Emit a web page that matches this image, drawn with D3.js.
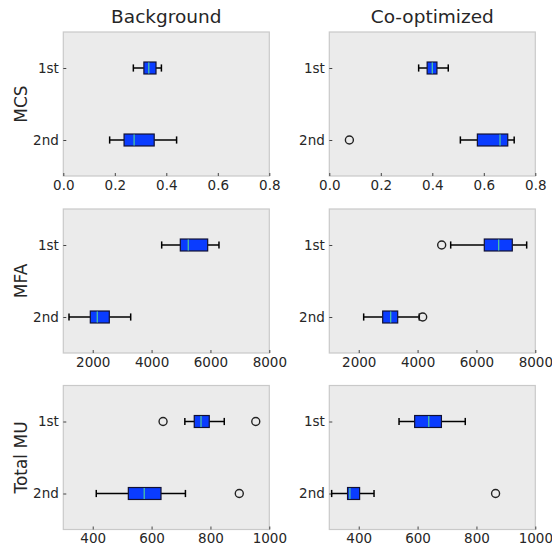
<!DOCTYPE html>
<html>
<head>
<meta charset="utf-8">
<script src="https://cdn.jsdelivr.net/npm/d3@7"></script>
<style>
  body { margin: 0; background: white; }
  text { font-family: "DejaVu Sans", sans-serif; fill: #262626; }
</style>
</head>
<body>
<div id="container"></div>
<script>
let w = 552;
let h = 549;

// DATA
let methods = ["Background", "Co-optimized"];
let metrics = ["MCS", "MFA", "Total MU"];
let sessions = ["1st", "2nd"];

// [whisker low, q1, median, q3, whisker high] for 1st, 2nd
let mcsBackground = [[0.272, 0.313, 0.332, 0.360, 0.381], [0.180, 0.236, 0.275, 0.353, 0.440]];
let mcsCoopt      = [[0.347, 0.380, 0.400, 0.418, 0.462], [0.509, 0.575, 0.663, 0.693, 0.718]];
let mfaBackground = [[4343, 4976, 5247, 5906, 6290], [1194, 1918, 2155, 2563, 3290]];
let mfaCoopt      = [[5125, 6267, 6755, 7218, 7707], [2168, 2814, 3086, 3324, 4058]];
let muBackground  = [[713, 745, 768, 796, 847], [412, 521, 575, 632, 715]];
let muCoopt       = [[537, 590, 638, 681, 762], [308, 362, 370, 403, 452]];

// outliers for 1st, 2nd
let mcsBackgroundOut = [[], []];
let mcsCooptOut      = [[], [0.078]];
let mfaBackgroundOut = [[], []];
let mfaCooptOut      = [[4819], [4173]];
let muBackgroundOut  = [[639, 954], [898]];
let muCooptOut       = [[], [865]];

let xDomains = [[0, 0.8], [1000, 8000], [300, 1000]];
let xTicks = [[0, 0.2, 0.4, 0.6, 0.8], [2000, 4000, 6000, 8000], [400, 600, 800, 1000]];
let xFormats = [".1f", "d", "d"];

let stats = [[mcsBackground, mcsCoopt], [mfaBackground, mfaCoopt], [muBackground, muCoopt]];
let outliers = [[mcsBackgroundOut, mcsCooptOut], [mfaBackgroundOut, mfaCooptOut], [muBackgroundOut, muCooptOut]];

// LAYOUT
let colX = [63.3, 329.3];
let rowY = [32, 209, 385.5];
let pw = 206;
let ph = 144;

let viz = d3.select("#container").append("svg")
    .attr("width", w)
    .attr("height", h)
;

metrics.forEach((metric, r) => {
  methods.forEach((method, c) => {
    let g = viz.append("g").attr("transform", "translate(" + colX[c] + "," + rowY[r] + ")");

    let x = d3.scaleLinear().domain(xDomains[r]).range([0, pw]);
    let y = d3.scaleLinear().domain([0.5, 2.5]).range([0, ph]);
    let boxHalf = y(1.083) - y(1);
    let capHalf = y(1.05) - y(1);

    g.append("rect")
        .attr("width", pw)
        .attr("height", ph)
        .attr("fill", "#ebebeb")
        .attr("stroke", "#c9c9c9")
        .attr("stroke-width", 1.2)
    ;

    // AXES
    let xAxis = d3.axisBottom(x)
        .tickValues(xTicks[r])
        .tickFormat(d3.format(xFormats[r]))
        .tickSizeInner(-3)
        .tickSizeOuter(0)
        .tickPadding(4);
    let gx = g.append("g").attr("transform", "translate(0," + ph + ")").call(xAxis);
    gx.select(".domain").remove();
    gx.selectAll("line").attr("stroke", "#444");
    gx.selectAll("text").style("font-size", "13.5px").attr("fill", "#262626");

    let yAxis = d3.axisLeft(y)
        .tickValues([1, 2])
        .tickFormat((d) => sessions[d - 1])
        .tickSizeInner(-3)
        .tickSizeOuter(0)
        .tickPadding(4.5);
    let gy = g.append("g").call(yAxis);
    gy.select(".domain").remove();
    gy.selectAll("line").attr("stroke", "#444");
    gy.selectAll("text").style("font-size", "13.5px").attr("fill", "#262626");

    // BOXES
    stats[r][c].forEach((s, i) => {
      let cy = y(i + 1);
      let bx = g.append("g");
      // whiskers
      bx.append("line")
          .attr("x1", x(s[0])).attr("x2", x(s[1]))
          .attr("y1", cy).attr("y2", cy)
          .attr("stroke", "black").attr("stroke-width", 1.5);
      bx.append("line")
          .attr("x1", x(s[3])).attr("x2", x(s[4]))
          .attr("y1", cy).attr("y2", cy)
          .attr("stroke", "black").attr("stroke-width", 1.5);
      // caps
      [s[0], s[4]].forEach((v) => {
        bx.append("line")
            .attr("x1", x(v)).attr("x2", x(v))
            .attr("y1", cy - capHalf).attr("y2", cy + capHalf)
            .attr("stroke", "black").attr("stroke-width", 1.5);
      });
      // box
      bx.append("rect")
          .attr("x", x(s[1]))
          .attr("y", cy - boxHalf)
          .attr("width", x(s[3]) - x(s[1]))
          .attr("height", boxHalf * 2)
          .attr("fill", "#0a3cff")
          .attr("stroke", "#111133")
          .attr("stroke-width", 1.2);
      // median
      bx.append("line")
          .attr("x1", x(s[2])).attr("x2", x(s[2]))
          .attr("y1", cy - boxHalf + 0.6).attr("y2", cy + boxHalf - 0.6)
          .attr("stroke", "#4cc3a0").attr("stroke-width", 1.3);
      // outliers
      outliers[r][c][i].forEach((v) => {
        bx.append("circle")
            .attr("cx", x(v))
            .attr("cy", cy)
            .attr("r", 4)
            .attr("fill", "none")
            .attr("stroke", "#222")
            .attr("stroke-width", 1.4);
      });
    });

    if (r == 0) {
      g.append("text")
          .attr("x", pw / 2)
          .attr("y", -9)
          .attr("text-anchor", "middle")
          .style("font-size", "18.5px")
          .text(method);
    }
    if (c == 0) {
      g.append("text")
          .attr("transform", "translate(" + (-36) + "," + (ph / 2) + ") rotate(-90)")
          .attr("text-anchor", "middle")
          .style("font-size", "17px")
          .text(metric);
    }
  });
});
</script>
</body>
</html>
